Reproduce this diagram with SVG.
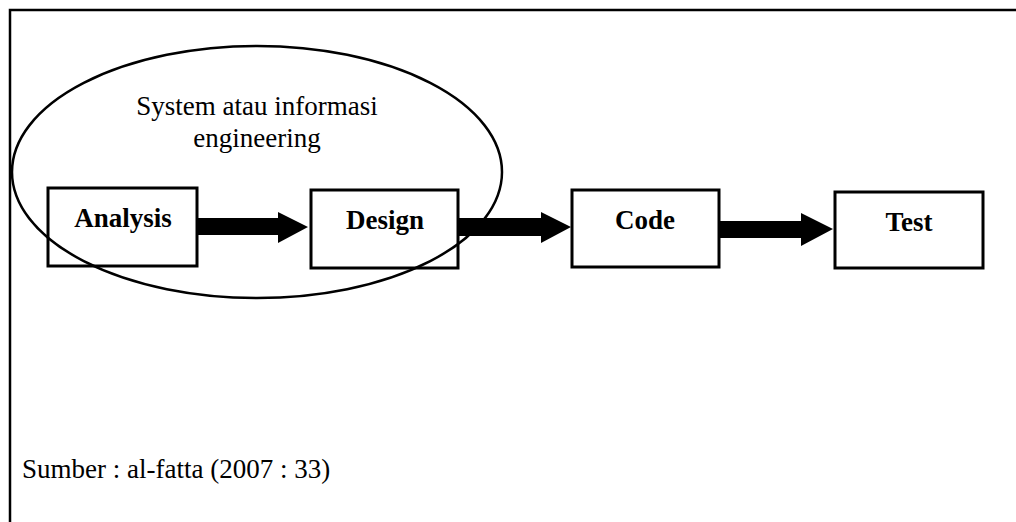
<svg xmlns="http://www.w3.org/2000/svg" width="1016" height="522" viewBox="0 0 1016 522">
<style>
.box{fill:#fff;stroke:#000;stroke-width:3}
.lbl{font-family:"Liberation Serif",serif;font-weight:bold;font-size:27px;text-anchor:middle;fill:#000}
.txt{font-family:"Liberation Serif",serif;font-size:27px;fill:#000}
.arr{fill:#000}
</style>
<rect width="1016" height="522" fill="#fff"/>
<path d="M10,522 V10 H1016" fill="none" stroke="#000" stroke-width="2.5"/>
<g id="analysis"><rect class="box" x="48" y="188" width="149" height="78"/><text class="lbl" x="123" y="227">Analysis</text></g>
<g id="design"><rect class="box" x="311" y="190" width="147" height="78"/><text class="lbl" x="385" y="229">Design</text></g>
<g id="code"><rect class="box" x="572" y="190" width="147" height="77"/><text class="lbl" x="645" y="229">Code</text></g>
<g id="test"><rect class="box" x="835" y="192" width="148" height="76"/><text class="lbl" x="909" y="231">Test</text></g>
<g id="connectors">
<polygon class="arr" points="197,218 278,218 278,212 308,227 278,243 278,235 197,235"/>
<polygon class="arr" points="458,218 541,218 541,212 571,227 541,243 541,236 458,236"/>
<polygon class="arr" points="719,221 801,221 801,213 833,229 801,246 801,238 719,238"/>
</g>
<g id="ellipse"><ellipse cx="257" cy="172" rx="245" ry="126" fill="none" stroke="#000" stroke-width="2.5"/>
<text class="txt" x="257" y="115" text-anchor="middle">System atau informasi</text>
<text class="txt" x="257" y="147" text-anchor="middle">engineering</text></g>
<text class="txt" x="22" y="478">Sumber : al-fatta (2007 : 33)</text>
</svg>
